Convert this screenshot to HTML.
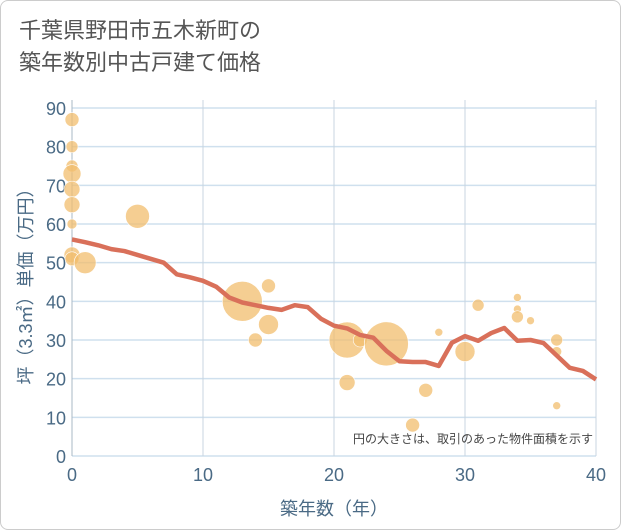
<!DOCTYPE html>
<html><head><meta charset="utf-8"><style>
body{margin:0;background:#fff;font-family:"Liberation Sans","Noto Sans CJK JP",sans-serif}
#wrap{position:relative;width:619px;height:528px;border:1px solid #ccc;border-radius:8px;overflow:hidden}
#title{position:absolute;left:18px;top:14px;font-size:22px;line-height:32px;color:#555;margin:0;font-weight:normal}
</style></head><body>
<div id="wrap">
<h1 id="title">千葉県野田市五木新町の<br>築年数別中古戸建て価格</h1>
<svg id="chart" width="621" height="530" style="position:absolute;left:-1px;top:-1px"></svg>
</div>
<script>
const xTicks=[0,10,20,30,40];
const yTicks=[0,10,20,30,40,50,60,70,80,90];
const lineYears=[0,1,2,3,4,5,6,7,8,9,10,11,12,13,14,15,16,17,18,19,20,21,22,23,24,25,26,27,28,29,30,31,32,33,34,35,36,37,38,39,40];
const lineValues=[56,55.3,54.5,53.5,53,52,51,50,47,46.2,45.3,43.8,41,39.7,39,38.3,37.8,39,38.5,35.5,33.7,33,31.3,30.6,27.2,24.5,24.3,24.3,23.3,29.3,31,29.8,31.8,33.1,29.8,30,29.2,26,22.8,22,19.8];
const bubbleYears=[0,0,0,0,0,0,0,0,0,1,5,13,14,15,15,21,21,22,24,26,27,28,30,31,34,34,34,35,37,37,37];
const bubblePrices=[87,80,75,73,69,65,60,52,51,50,62,40,30,44,34,30,19,30,29,8,17,32,27,39,41,38,36,35,30,27,13];
const bubbleSizes=[7,6,6,9,8,8,5,8,7,11,12,20,7,7,10,18,8,7,22,7,7,4,10,6,4,4,6,4,6,5,4];
const NS='http://www.w3.org/2000/svg';
const svg=document.getElementById('chart');
const X=v=>72+v*(596-72)/40, Y=v=>456-v*(456-108)/90;
function mk(t,a){const e=document.createElementNS(NS,t);for(const k in a)e.setAttribute(k,a[k]);svg.appendChild(e);return e;}
yTicks.forEach(t=>{
 const l=mk('line',{x1:72,x2:596,y1:Y(t),y2:Y(t),stroke:'#cfe0ee','stroke-width':1.5});
 
 
 const tx=mk('text',{x:66,y:Y(t)+7,'text-anchor':'end','font-size':18,fill:'#4a6a85'});
 tx.textContent=t;
 
 
});
xTicks.forEach(t=>{
 const l=mk('line',{x1:X(t),x2:X(t),y1:100,y2:456,stroke:'#c8d4e0','stroke-width':1});
 
 
 const tx=mk('text',{x:X(t),y:481,'text-anchor':'middle','font-size':18,fill:'#4a6a85'});
 tx.textContent=t;
 
 
});
const ax=mk('line',{x1:72,x2:72,y1:100,y2:456,stroke:'#aab8c6'});


bubbleYears.forEach((yr,i)=>{
 const c=mk('circle',{cx:X(yr),cy:Y(bubblePrices[i]),r:bubbleSizes[i],fill:'rgba(242,190,110,0.75)',stroke:'#fff','stroke-width':0.6});
 
 
});
const p=mk('polyline',{points:lineYears.map((y,i)=>X(y)+','+Y(lineValues[i])).join(' '),fill:'none',stroke:'#d9705a','stroke-width':4.5,'stroke-linejoin':'round'});


const note=mk('text',{x:593,y:443,'text-anchor':'end','font-size':12,fill:'#444'});
note.textContent='円の大きさは、取引のあった物件面積を示す';


const xt=mk('text',{x:334,y:515,'text-anchor':'middle','font-size':18,fill:'#4a6a85'});
xt.textContent='築年数（年）';


const yt=mk('text',{x:0,y:0,'text-anchor':'middle','font-size':18,fill:'#4a6a85',transform:'translate(32,282) rotate(-90)'});
yt.textContent='坪（3.3㎡）単価（万円）';


</script>
</body></html>
